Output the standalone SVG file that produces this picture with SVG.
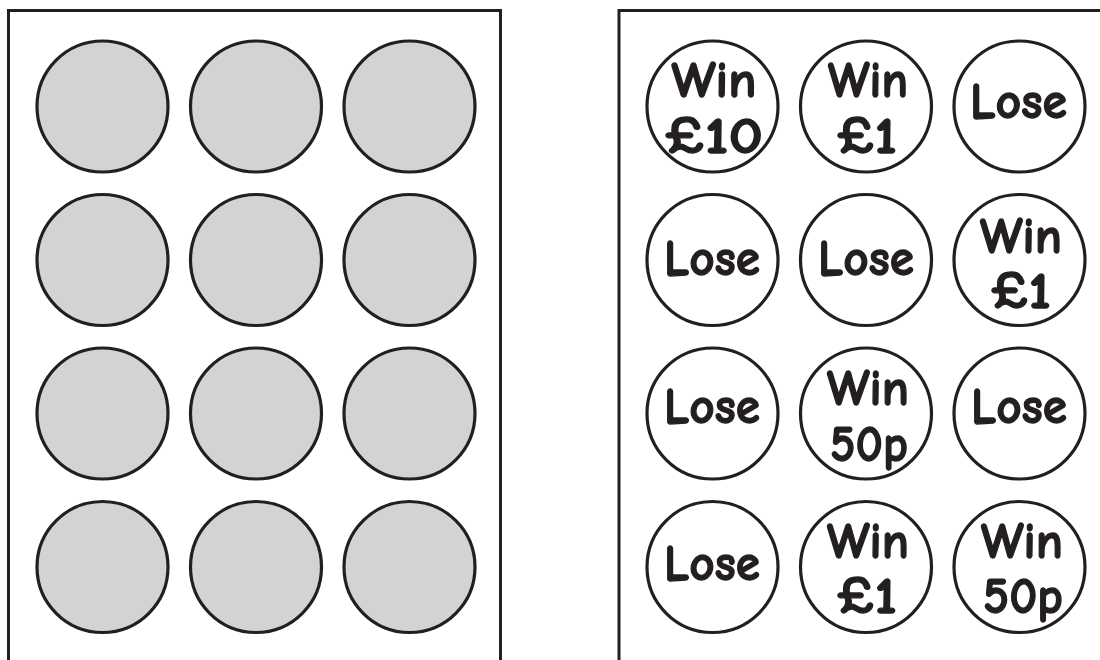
<svg xmlns="http://www.w3.org/2000/svg" width="1100" height="660" viewBox="0 0 1100 660">
<style>
.panel{fill:#fff;stroke:#231f20;stroke-width:3}
.g{fill:#d1d3d4;stroke:#231f20;stroke-width:3.2}
.w{fill:#fff;stroke:#231f20;stroke-width:3.2}
text{font-family:"Comic Sans MS","Comic Neue","DejaVu Sans",sans-serif;font-weight:bold;font-size:51px;fill:#231f20;stroke:#231f20;stroke-width:1.3;stroke-linejoin:round;text-anchor:middle}
</style>
<rect width="1100" height="660" fill="#fff"/>
<g id="left-card">
<rect class="panel" x="8.5" y="10.5" width="492" height="680"/>
<circle class="g" cx="102.5" cy="106.5" r="65.5"/>
<circle class="g" cx="256" cy="106.5" r="65.5"/>
<circle class="g" cx="409.5" cy="106.5" r="65.5"/>
<circle class="g" cx="102.5" cy="260" r="65.5"/>
<circle class="g" cx="256" cy="260" r="65.5"/>
<circle class="g" cx="409.5" cy="260" r="65.5"/>
<circle class="g" cx="102.5" cy="413.5" r="65.5"/>
<circle class="g" cx="256" cy="413.5" r="65.5"/>
<circle class="g" cx="409.5" cy="413.5" r="65.5"/>
<circle class="g" cx="102.5" cy="567" r="65.5"/>
<circle class="g" cx="256" cy="567" r="65.5"/>
<circle class="g" cx="409.5" cy="567" r="65.5"/>
</g>
<g id="right-card">
<rect class="panel" x="619" y="10.5" width="500" height="680"/>
</g>
<g id="c11"><circle class="w" cx="712.5" cy="106.5" r="65.5"/><text x="714" y="97" textLength="85" lengthAdjust="spacingAndGlyphs">Win</text><text x="714" y="153" textLength="98" lengthAdjust="spacingAndGlyphs">£10</text></g>
<g id="c12"><circle class="w" cx="866" cy="106.5" r="65.5"/><text x="868" y="97" textLength="80" lengthAdjust="spacingAndGlyphs">Win</text><text x="867" y="153" textLength="60" lengthAdjust="spacingAndGlyphs">£1</text></g>
<g id="c13"><circle class="w" cx="1019.5" cy="106.5" r="65.5"/><text x="1018.5" y="118" textLength="97" lengthAdjust="spacingAndGlyphs">Lose</text></g>
<g id="c21"><circle class="w" cx="712.5" cy="260" r="65.5"/><text x="712" y="275" textLength="96" lengthAdjust="spacingAndGlyphs">Lose</text></g>
<g id="c22"><circle class="w" cx="866" cy="260" r="65.5"/><text x="866" y="275" textLength="96" lengthAdjust="spacingAndGlyphs">Lose</text></g>
<g id="c23"><circle class="w" cx="1019.5" cy="260" r="65.5"/><text x="1021" y="253" textLength="82" lengthAdjust="spacingAndGlyphs">Win</text><text x="1021" y="308" textLength="60" lengthAdjust="spacingAndGlyphs">£1</text></g>
<g id="c31"><circle class="w" cx="712.5" cy="413.5" r="65.5"/><text x="712" y="423" textLength="96" lengthAdjust="spacingAndGlyphs">Lose</text></g>
<g id="c32"><circle class="w" cx="866" cy="413.5" r="65.5"/><text x="868" y="405" textLength="82" lengthAdjust="spacingAndGlyphs">Win</text><text x="869" y="461" textLength="78" lengthAdjust="spacingAndGlyphs">50p</text></g>
<g id="c33"><circle class="w" cx="1019.5" cy="413.5" r="65.5"/><text x="1019" y="423" textLength="96" lengthAdjust="spacingAndGlyphs">Lose</text></g>
<g id="c41"><circle class="w" cx="712.5" cy="567" r="65.5"/><text x="712" y="580" textLength="96" lengthAdjust="spacingAndGlyphs">Lose</text></g>
<g id="c42"><circle class="w" cx="866" cy="567" r="65.5"/><text x="868" y="558" textLength="82" lengthAdjust="spacingAndGlyphs">Win</text><text x="867" y="613" textLength="60" lengthAdjust="spacingAndGlyphs">£1</text></g>
<g id="c43"><circle class="w" cx="1019.5" cy="567" r="65.5"/><text x="1022" y="558" textLength="82" lengthAdjust="spacingAndGlyphs">Win</text><text x="1023" y="613" textLength="80" lengthAdjust="spacingAndGlyphs">50p</text></g>
</svg>
